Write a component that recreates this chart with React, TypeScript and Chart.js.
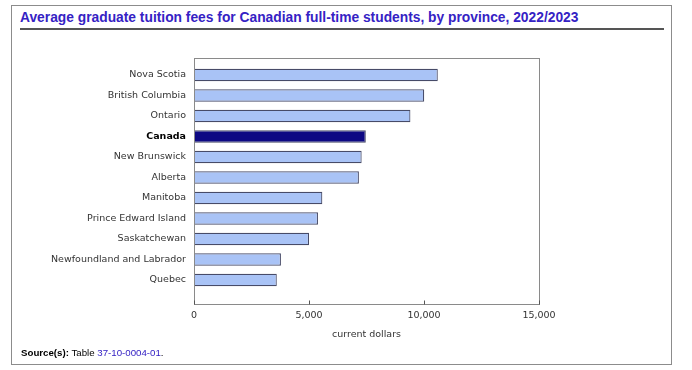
import React, { useEffect, useRef } from "react";
import { Chart, registerables } from "chart.js";

Chart.register(...registerables);

const categories = [
  "Nova Scotia",
  "British Columbia",
  "Ontario",
  "Canada",
  "New Brunswick",
  "Alberta",
  "Manitoba",
  "Prince Edward Island",
  "Saskatchewan",
  "Newfoundland and Labrador",
  "Quebec",
];
const fees = [10600, 10010, 9410, 7470, 7290, 7170, 5580, 5390, 5000, 3780, 3600];
const xTicks = [0, 5000, 10000, 15000];

const LIGHT = "#a9c3f6";
const DARK = "#0d0883";
const FONT = "'DejaVu Sans', Verdana, sans-serif";

const framePlugin = {
  id: "frame",
  afterDraw(chart: any) {
    const { ctx, chartArea } = chart;
    const xs = chart.scales.x;
    ctx.save();
    ctx.strokeStyle = "#8a8a8a";
    ctx.lineWidth = 1;
    const l = Math.round(chartArea.left) + 0.5;
    const t = Math.round(chartArea.top) + 0.5;
    const r = Math.round(chartArea.right) + 0.5;
    const b = Math.round(chartArea.bottom) + 0.5;
    ctx.strokeRect(l, t, r - l, b - t);
    ctx.strokeStyle = "#555";
    xs.ticks.forEach((tk: any) => {
      const px = Math.round(xs.getPixelForValue(tk.value)) + 0.5;
      ctx.beginPath();
      ctx.moveTo(px, b);
      ctx.lineTo(px, b - 4);
      ctx.stroke();
    });
    ctx.restore();
  },
};

export default function App() {
  const ref = useRef<HTMLCanvasElement>(null);
  useEffect(() => {
    const chart = new Chart(ref.current as HTMLCanvasElement, {
      type: "bar",
      data: {
        datasets: [
          {
            data: fees.map((v, i) => ({ x: v, y: i })) as any,
            backgroundColor: categories.map((c) => (c === "Canada" ? DARK : LIGHT)),
            borderColor: "#474b68",
            borderWidth: 1.2,
            categoryPercentage: 0.8,
            barPercentage: 0.75,
          },
        ],
      },
      plugins: [framePlugin],
      options: {
        indexAxis: "y",
        animation: false,
        responsive: false,
        events: [],
        layout: { padding: { left: 0, right: 153, top: 58, bottom: 30 } },
        plugins: { legend: { display: false }, tooltip: { enabled: false } },
        scales: {
          y: {
            type: "linear",
            reverse: true,
            offset: false,
            bounds: "data",
            min: -0.83,
            max: 11.17,
            border: { display: false },
            grid: { display: false, drawTicks: false },
            afterBuildTicks: (s: any) => {
              s.ticks = categories.map((_, i) => ({ value: i }));
            },
            afterFit: (s: any) => {
              s.width = 194;
            },
            ticks: {
              autoSkip: false,
              padding: 8,
              color: (c: any) => (categories[c.tick?.value] === "Canada" ? "#000" : "#333"),
              font: (c: any) => ({
                family: FONT,
                size: 9.5,
                weight: categories[c.tick?.value] === "Canada" ? "bold" : "normal",
              }),
              callback: (v: any) => categories[Math.round(Number(v))] ?? "",
            },
          },
          x: {
            type: "linear",
            bounds: "data",
            min: xTicks[0],
            max: xTicks[xTicks.length - 1],
            border: { display: false },
            grid: { display: false, drawTicks: false },
            afterBuildTicks: (s: any) => {
              s.ticks = xTicks.map((v) => ({ value: v }));
            },
            afterFit: (s: any) => {
              s.height = 36;
            },
            ticks: {
              padding: 6,
              color: "#333",
              font: { family: FONT, size: 9.5 },
              maxRotation: 0,
              callback: (v: any) => Number(v).toLocaleString("en-US"),
            },
            title: {
              display: true,
              text: "current dollars",
              color: "#333",
              font: { family: FONT, size: 9.5 },
              padding: { top: 1, bottom: 0 },
            },
          },
        },
      },
    });
    return () => chart.destroy();
  }, []);

  return (
    <div style={{ position: "absolute", left: 0, top: 0, width: 692, height: 370, background: "#fff" }}>
      <div
        style={{
          position: "absolute",
          left: 11,
          top: 5,
          width: 659,
          height: 358,
          border: "1px solid #8c8c8c",
        }}
      />
      <div
        style={{
          position: "absolute",
          left: 20,
          top: 9,
          width: 644,
          height: 19,
          borderBottom: "2px solid #555",
          fontFamily: "'Liberation Sans', Arial, sans-serif",
          fontWeight: "bold",
          fontSize: 13.8,
          lineHeight: "18px",
          color: "#3522c4",
          whiteSpace: "nowrap",
        }}
      >
        Average graduate tuition fees for Canadian full-time students, by province, 2022/2023
      </div>
      <canvas ref={ref} width={692} height={370} style={{ position: "absolute", left: 0, top: 0 }} />
      <div
        style={{
          position: "absolute",
          left: 21,
          top: 346,
          fontFamily: "'Liberation Sans', Arial, sans-serif",
          fontSize: 9.7,
          lineHeight: "13px",
          color: "#000",
          whiteSpace: "nowrap",
        }}
      >
        <b>Source(s):</b> Table <span style={{ color: "#3522c4" }}>37-10-0004-01</span>.
      </div>
    </div>
  );
}
